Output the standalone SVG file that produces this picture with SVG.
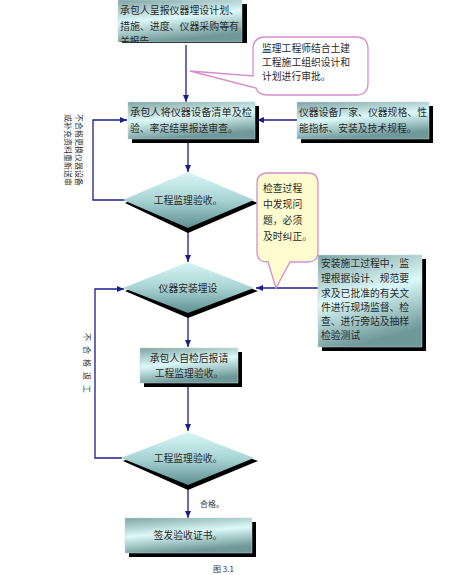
<svg xmlns="http://www.w3.org/2000/svg" width="475" height="575" viewBox="0 0 475 575">
<defs>
<linearGradient id="gBox" x1="0" y1="0" x2="0.3" y2="1">
<stop offset="0" stop-color="#7fa3a3"/>
<stop offset="0.5" stop-color="#dcf9f9"/>
<stop offset="1" stop-color="#6f9898"/>
</linearGradient>
<linearGradient id="gDia" x1="0" y1="0" x2="0" y2="1">
<stop offset="0" stop-color="#d8f6f6"/>
<stop offset="0.5" stop-color="#a9d4d4"/>
<stop offset="1" stop-color="#5f8f8f"/>
</linearGradient>
<marker id="arr" markerWidth="8" markerHeight="8" refX="7" refY="4" orient="auto" markerUnits="userSpaceOnUse">
<path d="M0,1 L7,4 L0,7 Z" fill="#1c1c8c"/>
</marker>
<clipPath id="clip1"><rect x="110" y="0" width="140" height="43"/></clipPath>
</defs>
<style>
.box{fill:url(#gBox);stroke:#c8d8d8;stroke-width:0.5}
.shadow{fill:#000}
.dia{fill:url(#gDia);stroke:none}
.t{font-family:"Noto Sans CJK SC","Liberation Sans",sans-serif;font-size:9.8px;fill:#2a2a2a}
.ts{font-family:"Noto Sans CJK SC","Liberation Sans",sans-serif;font-size:8px;fill:#333}
.c{fill:none;stroke:#1c1c8c;stroke-width:1.3}
.callout{stroke:#d58fcf;stroke-width:1.3}
</style>
<rect width="475" height="575" fill="#fff"/>

<g id="connectors">
<line class="c" x1="186" y1="45" x2="186" y2="102" marker-end="url(#arr)"/>
<line class="c" x1="297" y1="120" x2="257" y2="120" marker-end="url(#arr)"/>
<polyline class="c" points="125,200 93,200 93,120 127,120" marker-end="url(#arr)"/>
<line class="c" x1="188" y1="142" x2="188" y2="172" marker-end="url(#arr)"/>
<line class="c" x1="188" y1="230" x2="188" y2="262" marker-end="url(#arr)"/>
<line class="c" x1="318" y1="288" x2="256" y2="288" marker-end="url(#arr)"/>
<polyline class="c" points="122,458 95,458 95,289 124,289" marker-end="url(#arr)"/>
<line class="c" x1="188" y1="315" x2="188" y2="347" marker-end="url(#arr)"/>
<line class="c" x1="188" y1="386" x2="188" y2="431" marker-end="url(#arr)"/>
<line class="c" x1="188" y1="488" x2="188" y2="518" marker-end="url(#arr)"/>
</g>

<g id="n1" clip-path="url(#clip1)">
<rect class="shadow" x="122" y="4" width="125" height="42"/>
<rect class="box" x="118" y="0" width="124" height="42"/>
<text class="t" x="120" y="14" textLength="119" lengthAdjust="spacingAndGlyphs">承包人呈报仪器埋设计划、</text>
<text class="t" x="120" y="30" textLength="119" lengthAdjust="spacingAndGlyphs">措施、进度、仪器采购等有</text>
<text class="t" x="120" y="45">关报告。</text>
</g>

<g id="callout1">
<path class="callout" fill="#fff" d="M266,37 H356 Q368,37 368,49 V83 Q368,95 356,95 H268 Q258,95 256,88 L190,71 L253,76 V49 Q253,37 266,37 Z"/>
<text class="t" x="262" y="52">监理工程师结合土建</text>
<text class="t" x="262" y="66">工程施工组织设计和</text>
<text class="t" x="262" y="80">计划进行审批。</text>
</g>

<g id="n2">
<rect class="shadow" x="132" y="106" width="127" height="37"/>
<rect class="box" x="128" y="102" width="127" height="37"/>
<text class="t" x="130" y="116" textLength="122" lengthAdjust="spacingAndGlyphs">承包人将仪器设备清单及检</text>
<text class="t" x="130" y="132">验、率定结果报送审查。</text>
</g>

<g id="n3">
<rect class="shadow" x="301" y="106" width="132" height="37"/>
<rect class="box" x="297" y="102" width="132" height="37"/>
<text class="t" x="299" y="116" textLength="128" lengthAdjust="spacingAndGlyphs">仪器设备厂家、仪器规格、性</text>
<text class="t" x="299" y="132">能指标、安装及技术规程。</text>
</g>

<g id="fb1label">
<text class="ts" transform="translate(76,114) rotate(90)">不合格更换仪器设备</text>
<text class="ts" transform="translate(65,114) rotate(90)">或补充资料重新送审</text>
</g>

<g id="d1">
<polygon class="shadow" points="188,176 258,203 188,233 125,203"/>
<polygon class="dia" points="188,172 254,200 188,228 123,200"/>
<text class="t" x="188" y="204" text-anchor="middle">工程监理验收。</text>
</g>

<g id="callout2">
<path class="callout" fill="#fffdd0" d="M268,173 H308 Q318,173 318,183 V252 Q318,262 308,262 H290 L276,288 L268,262 H267 Q257,262 257,252 V183 Q257,173 268,173 Z"/>
<text class="t" x="263" y="192">检查过程</text>
<text class="t" x="263" y="208">中发现问</text>
<text class="t" x="263" y="224">题，必须</text>
<text class="t" x="263" y="240">及时纠正。</text>
</g>

<g id="d2">
<polygon class="shadow" points="188,266 258,291 188,318 125,291"/>
<polygon class="dia" points="188,262 254,288 188,313 123,288"/>
<text class="t" x="188" y="292" text-anchor="middle">仪器安装埋设</text>
</g>

<g id="n4">
<rect class="shadow" x="322" y="259" width="104" height="92"/>
<rect class="box" x="318" y="255" width="104" height="92"/>
<text class="t" x="321" y="267">安装施工过程中，监</text>
<text class="t" x="321" y="282">理根据设计、规范要</text>
<text class="t" x="321" y="297">求及已批准的有关文</text>
<text class="t" x="321" y="311">件进行现场监督、检</text>
<text class="t" x="321" y="325">查、进行旁站及抽样</text>
<text class="t" x="321" y="339">检验测试</text>
</g>

<g id="fb2label">
<text class="ts" transform="translate(84,333) rotate(90)" letter-spacing="5">不合格返工</text>
</g>

<g id="n5">
<rect class="shadow" x="144" y="352" width="98" height="35"/>
<rect class="box" x="140" y="348" width="98" height="35"/>
<text class="t" x="189" y="362" text-anchor="middle">承包人自检后报请</text>
<text class="t" x="189" y="377" text-anchor="middle">工程监理验收。</text>
</g>

<g id="d3">
<polygon class="shadow" points="188,436 258,461 188,490 123,461"/>
<polygon class="dia" points="188,432 254,458 188,485 121,458"/>
<text class="t" x="188" y="462" text-anchor="middle">工程监理验收。</text>
</g>

<text class="ts" x="200" y="507" font-size="9">合格。</text>

<g id="n6">
<rect class="shadow" x="129" y="522" width="127" height="35"/>
<rect class="box" x="125" y="518" width="127" height="35"/>
<text class="t" x="188" y="539" text-anchor="middle">签发验收证书。</text>
</g>

<text class="ts" x="213" y="572" font-size="9">图 3.1</text>
</svg>
